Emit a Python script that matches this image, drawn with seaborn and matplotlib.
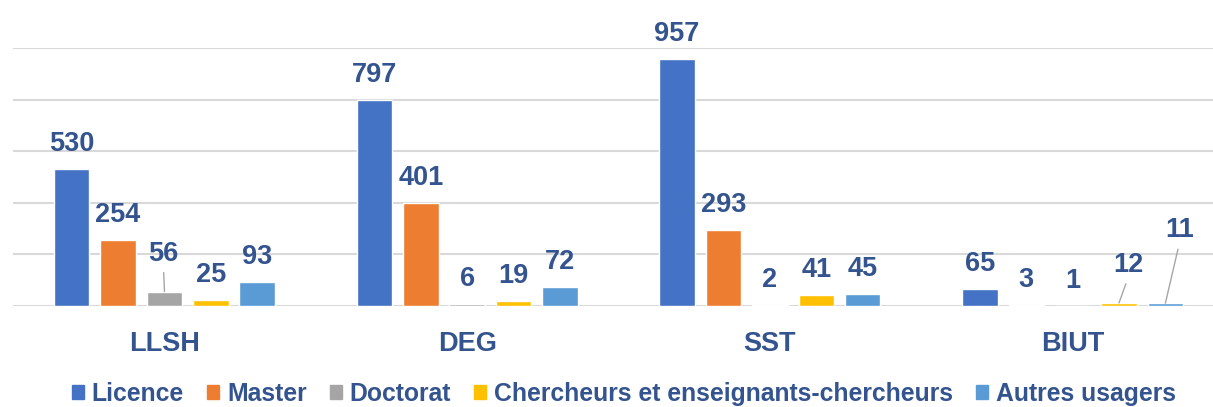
import matplotlib
matplotlib.use('Agg')
import matplotlib.pyplot as plt
import matplotlib.patches as mpatches
import seaborn as sns
import pandas as pd

# Data
categories = ['LLSH', 'DEG', 'SST', 'BIUT']
series = ['Licence', 'Master', 'Doctorat',
          'Chercheurs et enseignants-chercheurs', 'Autres usagers']
licence = [530, 797, 957, 65]
master = [254, 401, 293, 3]
doctorat = [56, 6, 2, 1]
chercheurs = [25, 19, 41, 12]
autres = [93, 72, 45, 11]
values = [licence, master, doctorat, chercheurs, autres]

colors = ['#4472C4', '#ED7D31', '#A5A5A5', '#FFC000', '#5B9BD5']
text_color = '#34548F'

rows = []
for s, vals in zip(series, values):
    for c, v in zip(categories, vals):
        rows.append({'Faculte': c, 'Public': s, 'Effectif': v})
df = pd.DataFrame(rows)

sns.set_theme(style='white')
plt.rcParams['font.family'] = ['Liberation Sans', 'DejaVu Sans']

W, H = 1213, 407
fig = plt.figure(figsize=(W / 100, H / 100), dpi=100)
ax = fig.add_axes([13.1 / W, (H - 306) / H, (1224 - 13.1) / W, (306 - 48) / H])

sns.barplot(data=df, x='Faculte', y='Effectif', hue='Public',
            order=categories, hue_order=series, palette=colors,
            saturation=1, width=0.766, gap=0.235, legend=False, ax=ax)

ax.set_ylim(0, 1000)
ax.set_xlim(-0.5, 3.5)
ax.set_yticks(range(0, 1001, 200))
ax.yaxis.set_ticklabels([])
ax.grid(axis='y', color='#D9D9D9', linewidth=1.5)
ax.grid(axis='x', visible=False)
ax.set_axisbelow(True)
for sp in ax.spines.values():
    sp.set_visible(False)
ax.set_xlabel('')
ax.set_ylabel('')
ax.tick_params(left=False, bottom=False, axis='x', pad=12,
               labelsize=19.5, labelcolor=text_color)
for t in ax.get_xticklabels():
    t.set_fontweight('bold')

# label offsets in pixels (dx, baseline height above bar top)
px = 72 / 100
special = {
    ('LLSH', 'Doctorat'): (-1, 31),
    ('BIUT', 'Chercheurs et enseignants-chercheurs'): (9, 31),
    ('BIUT', 'Autres usagers'): (14, 66),
}
for i, cont in enumerate(ax.containers):
    for j, bar in enumerate(cont):
        x = bar.get_x() + bar.get_width() / 2
        h = bar.get_height()
        key = (categories[j], series[i])
        dx, dy = special.get(key, (0, 18))
        kw = {}
        if key in special:
            kw['arrowprops'] = dict(arrowstyle='-', color='#A6A6A6', lw=1,
                                    shrinkA=2, shrinkB=0, relpos=(0.5, 0))
        ax.annotate(str(values[i][j]), xy=(x, h), xytext=(dx * px, dy * px),
                    textcoords='offset points', ha='center', va='baseline',
                    fontsize=19.5, fontweight='bold', color=text_color, **kw)

handles = [mpatches.Patch(color=c) for c in colors]
fig.legend(handles, series, loc='center', bbox_to_anchor=(624 / W, 1 - 394 / H),
           ncol=5, frameon=False, prop={'size': 17.8, 'weight': 'bold'},
           handlelength=0.49, handleheight=0.49, handletextpad=0.32,
           columnspacing=0.93, labelcolor=text_color)

fig.savefig('out.png', dpi=100)
